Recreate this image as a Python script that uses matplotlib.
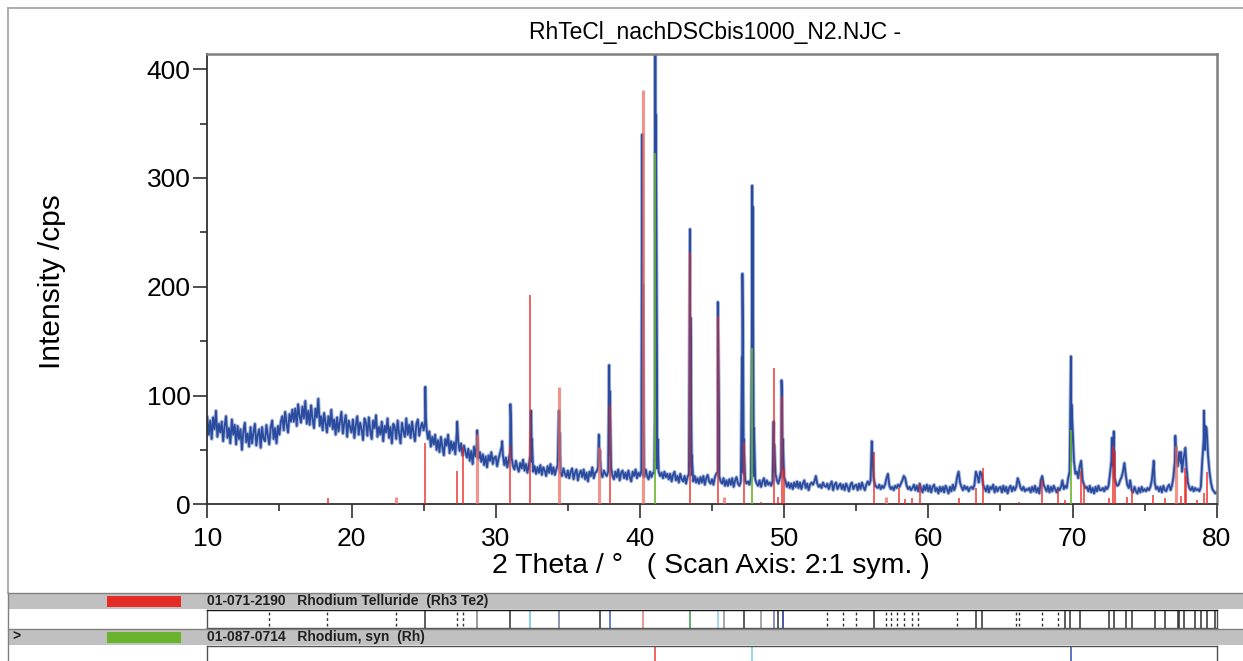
#!/usr/bin/env python3
"""XRD pattern RhTeCl after DSC to 1000 C (N2) with Rh3Te2 / Rh reference sticks."""
import numpy as np
import matplotlib
matplotlib.use("Agg")
import matplotlib.pyplot as plt
from matplotlib.patches import Rectangle
from matplotlib.lines import Line2D
from matplotlib import font_manager

W, H = 1243, 661

# measured scan on a 0.1 deg grid, one row per degree (10.0 .. 79.9), then 80.0
scan_start, scan_step = 10.0, 0.1
scan_rows = [
    [80, 64, 77, 60, 80, 69, 86, 62, 74, 66],  # 10
    [76, 58, 72, 81, 61, 70, 56, 78, 64, 73],
    [55, 72, 60, 69, 50, 67, 75, 57, 65, 53],
    [71, 56, 66, 74, 54, 64, 69, 52, 71, 60],
    [58, 73, 63, 55, 71, 77, 60, 70, 56, 72],
    [64, 76, 81, 68, 85, 74, 66, 83, 76, 87],  # 15
    [76, 88, 72, 92, 81, 75, 90, 79, 95, 74],
    [86, 73, 91, 78, 70, 88, 80, 97, 72, 81],
    [68, 84, 75, 66, 81, 72, 87, 69, 78, 64],
    [80, 67, 76, 85, 65, 75, 82, 62, 77, 71],
    [66, 78, 61, 73, 81, 64, 75, 69, 59, 79],  # 20
    [75, 63, 80, 68, 60, 77, 70, 82, 62, 71],
    [64, 76, 58, 72, 66, 79, 61, 71, 56, 74],
    [71, 60, 77, 65, 56, 75, 67, 62, 79, 64],
    [73, 61, 76, 66, 58, 74, 78, 63, 71, 75],
    [68, 75, 70, 60, 67, 53, 62, 55, 64, 50],  # 25
    [59, 48, 62, 53, 45, 60, 54, 64, 47, 58],
    [50, 57, 46, 66, 58, 49, 56, 45, 54, 48],
    [43, 51, 40, 49, 37, 53, 44, 57, 42, 48],
    [39, 46, 36, 44, 34, 45, 40, 48, 37, 43],
    [44, 35, 42, 47, 52, 45, 36, 43, 34, 41],  # 30
    [48, 43, 35, 32, 40, 34, 30, 38, 33, 41],
    [31, 37, 29, 36, 45, 39, 30, 35, 28, 34],
    [29, 36, 27, 34, 31, 26, 35, 29, 37, 28],
    [34, 27, 32, 36, 40, 29, 26, 33, 28, 25],  # 34
    [31, 24, 30, 33, 23, 29, 32, 22, 28, 31],  # 35
    [25, 32, 23, 29, 21, 30, 26, 34, 24, 29],
    [30, 34, 40, 29, 25, 31, 28, 26, 30, 45],
    [34, 26, 23, 30, 25, 32, 22, 29, 31, 24],
    [29, 23, 31, 25, 21, 30, 26, 32, 24, 29],
    [26, 31, 27, 25, 32, 26, 23, 30, 25, 29],  # 40
    [29, 40, 33, 30, 26, 29, 24, 30, 25, 28],
    [23, 28, 21, 27, 30, 22, 26, 20, 28, 23],
    [21, 26, 19, 25, 28, 35, 27, 21, 26, 20],
    [24, 19, 25, 20, 26, 18, 24, 27, 21, 19],
    [23, 18, 25, 28, 30, 26, 21, 19, 24, 17],  # 45
    [22, 17, 23, 18, 24, 16, 22, 25, 19, 17],
    [21, 30, 28, 22, 19, 21, 18, 24, 30, 26],
    [23, 19, 17, 22, 16, 21, 24, 17, 22, 18],
    [20, 17, 21, 30, 28, 22, 19, 24, 30, 32],
    [25, 21, 16, 20, 15, 19, 14, 20, 16, 21],  # 50
    [15, 20, 14, 19, 22, 15, 19, 13, 18, 20],
    [18, 21, 26, 19, 16, 18, 15, 20, 17, 16],
    [19, 14, 18, 21, 13, 18, 20, 14, 17, 19],
    [14, 18, 13, 19, 16, 12, 18, 20, 14, 17],
    [18, 13, 19, 14, 20, 16, 13, 18, 21, 18],  # 55
    [22, 40, 25, 18, 16, 15, 18, 14, 17, 15],
    [18, 24, 28, 17, 14, 16, 13, 17, 15, 18],
    [16, 19, 22, 26, 24, 17, 14, 16, 13, 15],
    [18, 13, 17, 12, 19, 15, 11, 17, 13, 18],
    [12, 17, 11, 16, 18, 12, 15, 10, 16, 12],  # 60
    [16, 11, 17, 14, 10, 16, 12, 18, 13, 17],
    [25, 30, 20, 16, 13, 17, 14, 16, 12, 15],
    [16, 14, 18, 30, 26, 20, 30, 28, 18, 15],
    [12, 17, 11, 16, 14, 18, 11, 16, 12, 15],
    [16, 11, 17, 12, 16, 10, 15, 17, 12, 16],  # 65
    [13, 16, 24, 20, 15, 13, 16, 12, 14, 13],
    [15, 11, 16, 12, 17, 11, 15, 10, 22, 26],
    [18, 15, 12, 17, 11, 16, 12, 17, 14, 11],
    [15, 13, 16, 22, 14, 17, 15, 24, 30, 40],
    [72, 40, 28, 30, 24, 35, 40, 22, 18, 15],  # 70
    [16, 12, 17, 11, 15, 10, 16, 12, 17, 13],
    [13, 15, 12, 16, 14, 17, 28, 40, 35, 25],
    [20, 17, 18, 22, 25, 30, 38, 26, 18, 15],
    [22, 13, 11, 16, 12, 10, 15, 11, 16, 12],
    [14, 12, 15, 13, 16, 22, 35, 20, 14, 16],  # 75
    [12, 16, 11, 17, 13, 12, 16, 18, 13, 17],
    [25, 40, 45, 35, 48, 38, 30, 42, 50, 35],
    [20, 15, 13, 16, 12, 15, 13, 14, 12, 16],
    [40, 60, 50, 70, 45, 30, 20, 14, 12, 10],
]
scan_last = 11  # 80.0

# reflections of the scan (2theta, cps)
peak_x = [25.12, 25.16, 27.33, 28.72, 30.45, 31.02, 31.07, 32.46, 32.51,
          34.38, 34.43, 37.15, 37.21, 37.87, 37.92, 37.97,
          40.16, 40.19, 40.22, 40.26, 41.05, 41.07, 41.11, 41.15, 41.19, 41.24,
          43.47, 43.51, 43.55, 43.60, 45.40, 45.44, 45.49,
          47.08, 47.11, 47.15, 47.20, 47.76, 47.79, 47.82, 47.86, 47.91,
          49.27, 49.32, 49.82, 49.86, 49.91, 56.08, 56.12,
          69.86, 69.89, 69.93, 72.73, 72.86, 75.63, 77.13, 77.53, 77.83,
          79.11, 79.21]
peak_y = [108, 80, 76, 68, 58, 92, 72, 86, 60,
          86, 66, 64, 50, 128, 104, 62,
          340, 120, 202, 80, 100, 430, 358, 245, 120, 60,
          253, 172, 100, 45, 186, 150, 80,
          135, 212, 150, 60, 150, 293, 274, 160, 70,
          76, 55, 114, 100, 60, 58, 48,
          100, 136, 92, 61, 67, 40, 63, 48, 52,
          86, 72]

# 01-071-2190 Rhodium Telluride (Rh3Te2) reference sticks
rh3te2_x = [18.35, 25.1, 27.3, 27.7, 31.0, 32.4, 37.9, 43.5, 45.45, 47.2,
            48.4, 49.3, 49.6, 49.85, 50.0, 56.2, 58.0, 58.4, 58.9, 59.4,
            62.1, 63.3, 63.8, 66.3, 67.9, 69.0, 69.5, 70.6, 70.8, 72.5,
            72.8, 72.95, 73.8, 74.1, 75.6, 76.4, 77.5, 77.8, 77.9, 78.6,
            79.1, 79.3]
rh3te2_y = [6, 56, 31, 53, 54, 192, 91, 232, 173, 57,
            2, 125, 7, 100, 33, 48, 15, 5, 6, 19,
            6, 15, 33, 2, 22, 13, 4, 31, 19, 6,
            54, 49, 7, 13, 9, 6, 8, 33, 26, 4,
            10, 30]
# overlapping (double) sticks, drawn pale
rh3te2_pale_x = [23.1, 28.7, 34.4, 37.15, 40.2, 45.8, 57.1, 77.2]
rh3te2_pale_y = [7, 65, 108, 53, 381, 7, 7, 54]

# 01-087-0714 Rhodium, syn (Rh)
rh_x = [41.07, 47.78, 69.88]
rh_y = [323, 144, 68]

# stick strips under the plot
strip1_solid = [25.1, 28.7, 31.0, 32.4, 34.4, 37.2, 37.9, 40.2, 43.5, 45.4,
                45.8, 47.2, 48.4, 49.3, 49.6, 49.9, 56.2, 63.3, 63.7, 69.5,
                69.8, 70.5, 72.5, 72.9, 73.7, 74.1, 75.7, 76.4, 77.3, 77.4,
                77.7, 78.5, 78.9, 79.3, 79.9]
strip1_dashed = [14.3, 18.3, 23.1, 27.3, 27.7, 53.0, 54.1, 55.0, 57.1, 57.4,
                 57.8, 58.3, 58.9, 59.3, 62.0, 66.1, 66.3, 67.9, 69.0]
strip1_marked = {32.4: "#62c6e8", 34.4: "#6a78a8", 37.9: "#4058c0", 40.2: "#e87a78",
                 43.5: "#3a9a4a", 45.4: "#8ad0ea", 45.8: "#909090", 48.4: "#909090",
                 49.3: "#6a70b0", 49.9: "#1a2a90", 28.7: "#808080"}
strip2_x = [41.07, 47.78, 69.88]
strip2_colors = ["#e83a3a", "#7ccfe8", "#3050b0"]


def fx(px):
    return px / W


def fy(py):
    return 1 - py / H


def rect(fig, x0, y0, x1, y1, **kw):
    fig.add_artist(Rectangle((fx(x0), fy(y1)), fx(x1) - fx(x0), fy(y0) - fy(y1),
                             transform=fig.transFigure, **kw))


def line(fig, xs, ys, **kw):
    fig.add_artist(Line2D([fx(v) for v in xs], [fy(v) for v in ys],
                          transform=fig.transFigure, **kw))


names = {f.name for f in font_manager.fontManager.ttflist}
BASE = "Liberation Sans" if "Liberation Sans" in names else "DejaVu Sans"
NARROW = "Liberation Sans Narrow" if "Liberation Sans Narrow" in names else BASE
plt.rcParams["font.family"] = BASE

fig = plt.figure(figsize=(W / 100, H / 100), dpi=100)

# outer frame of the window
line(fig, [8, 8], [8, 593], color="#a0a0a0", lw=1.2)
line(fig, [8, W], [8, 8], color="#a0a0a0", lw=1.2)

ax = fig.add_axes([fx(207.3), fy(504.3), fx(1216.7) - fx(207.3), fy(54) - fy(504.3)])

bg_y = np.concatenate([np.array(r, float) for r in scan_rows] + [[scan_last]])
bg_x = scan_start + scan_step * np.arange(len(bg_y))
x = np.concatenate([bg_x, peak_x])
y = np.concatenate([bg_y, peak_y])
order = np.argsort(x, kind="stable")
ax.plot(x[order], y[order], color="#8fa3d4", lw=2.6, alpha=0.8, zorder=2)
ax.plot(x[order], y[order], color="#2b4c9e", lw=1.3, zorder=2)

ax.vlines(rh3te2_pale_x, 0, rh3te2_pale_y, color="#f0655c", lw=2.2, alpha=0.7, zorder=3)
ax.vlines(rh3te2_x, 0, rh3te2_y, color="#e8231f", lw=1.1, alpha=0.9, zorder=3)
ax.vlines(rh_x, 0, rh_y, color="#6ab42d", lw=1.2, zorder=4)

ax.set_xlim(10, 80)
ax.set_ylim(0, 414)
ax.set_xticks(np.arange(10, 81, 10))
ax.set_xticks(np.arange(15, 80, 10), minor=True)
ax.set_yticks(np.arange(0, 401, 100))
ax.set_yticks(np.arange(50, 400, 100), minor=True)
ax.tick_params(which="major", length=10, width=1.2, color="#303030", labelsize=19)
ax.tick_params(which="minor", length=5, width=1.2, color="#303030")
ax.tick_params(axis="x", which="major", pad=6)
ax.tick_params(axis="y", which="major", pad=2)
for s in ("left", "bottom"):
    ax.spines[s].set_color("#303030")
    ax.spines[s].set_linewidth(1.3)
for s in ("top", "right"):
    ax.spines[s].set_color("#808080")
    ax.spines[s].set_linewidth(1.8)

fig.text(fx(715), fy(32), "RhTeCl_nachDSCbis1000_N2.NJC -", ha="center", va="center",
         fontsize=16.5)
fig.text(fx(711), fy(573), "2 Theta / \u00b0   ( Scan Axis: 2:1 sym. )", ha="center",
         va="baseline", fontsize=20.5)
fig.text(fx(52), fy(282), "Intensity /cps", ha="center", va="center", rotation=90,
         fontsize=21.5)

# phase panels under the plot
bar_kw = dict(facecolor="#c0c0c0", edgecolor="none")
rect(fig, 8, 593, W, 609, **bar_kw)
line(fig, [8, W], [593, 593], color="#808080", lw=1)
rect(fig, 107, 596, 181, 607, facecolor="#e52b25", edgecolor="none")
fig.text(fx(207), fy(601.5), "01-071-2190   Rhodium Telluride  (Rh3 Te2)", ha="left",
         va="center", fontsize=10, fontweight="bold", family=NARROW, color="#202020")

rect(fig, 8, 629, W, 645, **bar_kw)
line(fig, [8, W], [628.5, 628.5], color="#808080", lw=1)
rect(fig, 107, 632, 181, 643, facecolor="#6ab42d", edgecolor="none")
fig.text(fx(12), fy(637), ">", ha="left", va="center", fontsize=10, fontweight="bold",
         color="#202020")
fig.text(fx(207), fy(637.5), "01-087-0714   Rhodium, syn  (Rh)", ha="left",
         va="center", fontsize=10, fontweight="bold", family=NARROW, color="#202020")
line(fig, [8, 8], [593, 661], color="#808080", lw=1)

s1 = fig.add_axes([fx(207.3), fy(628), fx(1216.7) - fx(207.3), fy(609.5) - fy(628)])
s2 = fig.add_axes([fx(207.3), fy(661), fx(1216.7) - fx(207.3), fy(645.5) - fy(661)])
for s in (s1, s2):
    s.set_xlim(10, 80)
    s.set_ylim(0, 1)
    s.set_xticks([])
    s.set_yticks([])
    for sp in s.spines.values():
        sp.set_color("#505050")
        sp.set_linewidth(1.0)
s1.spines["top"].set_color("#101010")
s2.spines["bottom"].set_visible(False)

s1.vlines(strip1_solid, 0, 1, color=[strip1_marked.get(p, "#303030") for p in strip1_solid],
          lw=1.1)
s1.vlines(strip1_dashed, 0.1, 0.9, color="#303030", lw=1.0, linestyles=(0, (2, 2)))
s2.vlines(strip2_x, 0, 1, color=strip2_colors, lw=1.1)

fig.savefig("out.png", dpi=100)
